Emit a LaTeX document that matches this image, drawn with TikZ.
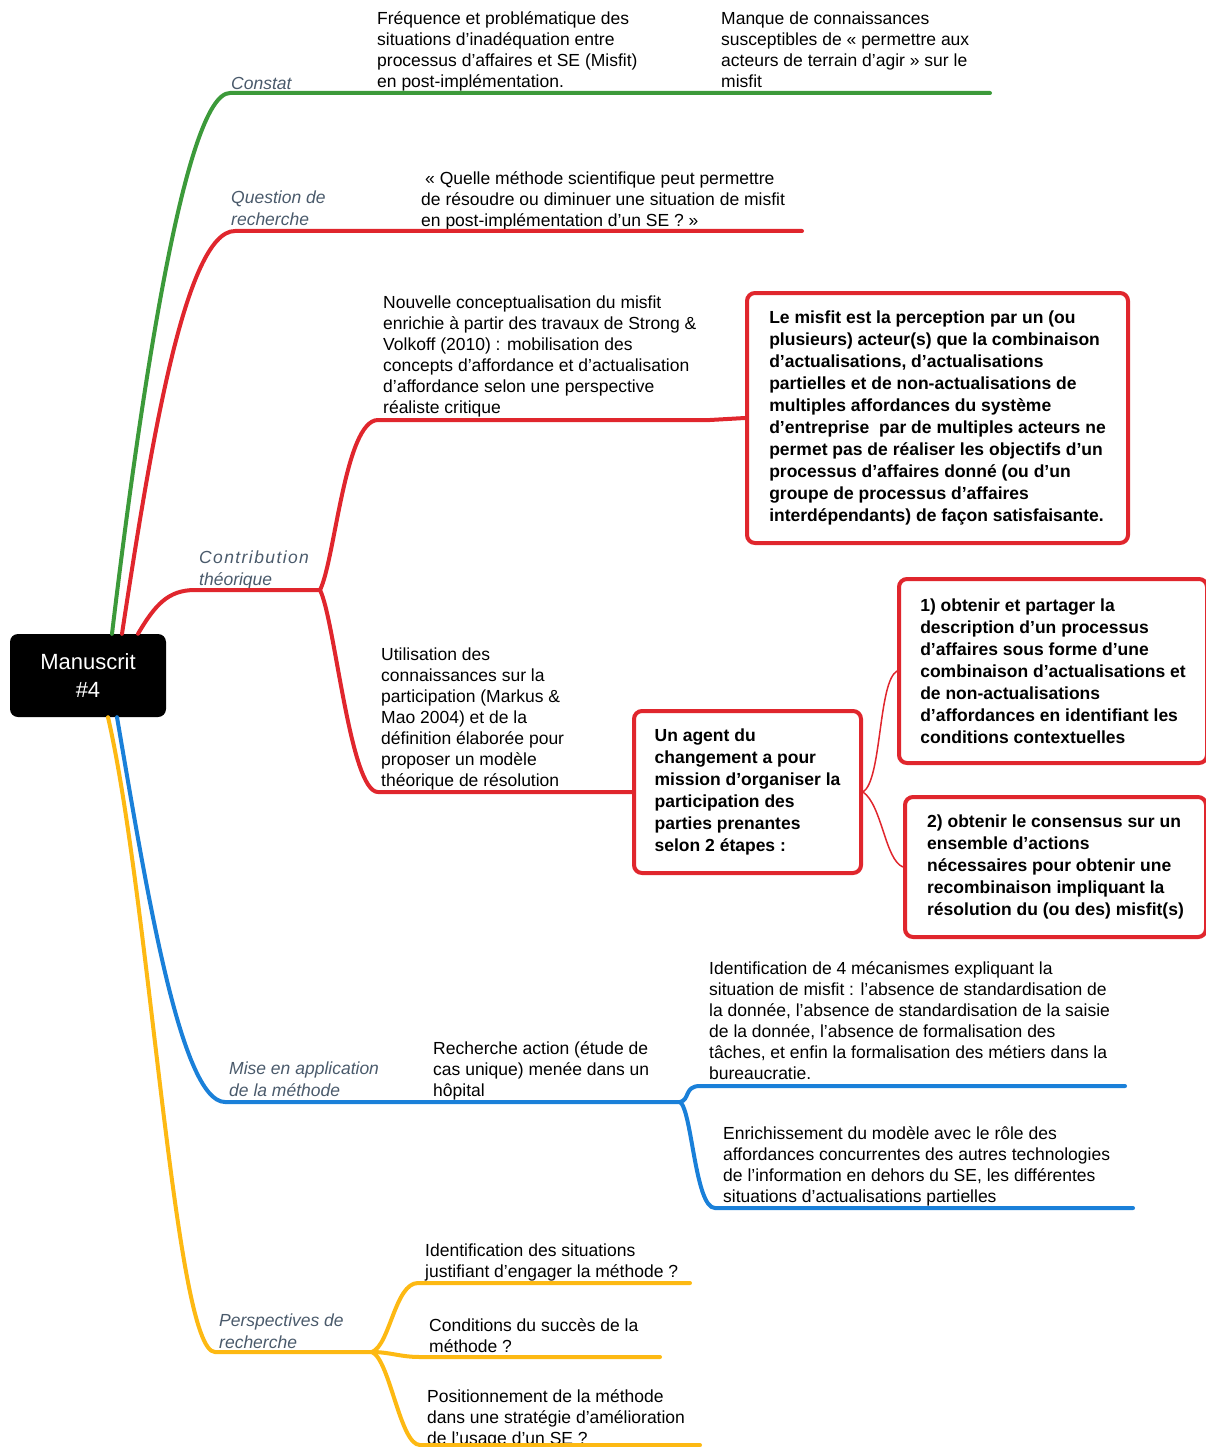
\documentclass[tikz,border=0pt]{standalone}
\usepackage{fontspec}
\setmainfont{Liberation Sans}
\definecolor{cgreen}{HTML}{3C9A3A}
\definecolor{cred}{HTML}{E0262D}
\definecolor{cblue}{HTML}{1A80D9}
\definecolor{cyellow}{HTML}{FDB913}
\definecolor{labgrey}{HTML}{4A5A6B}
\tikzset{
  br/.style={line width=4pt, line cap=round},
  thin/.style={line width=1.5pt, cred},
  txt/.style={anchor=north west, align=left, inner sep=0pt, font=\fontsize{17.5}{21}\selectfont},
  lab/.style={anchor=north west, align=left, inner sep=0pt, text=labgrey, font=\fontsize{17.5}{21.5}\selectfont\itshape},
  mbox/.style={draw=cred, line width=4pt, rounded corners=8pt, fill=white, align=left, inner sep=0pt, font=\fontsize{17.5}{22}\selectfont\bfseries},
  rootbox/.style={fill=black, rounded corners=8pt, text=white, align=center, inner sep=0pt, minimum width=156pt, minimum height=83pt, font=\fontsize{22}{28}\selectfont}
}
\begin{document}
\begin{tikzpicture}[x=1pt,y=-1pt]
\useasboundingbox (0,0) rectangle (1206,1447);
\clip (0,0) rectangle (1206,1447);

% root
\node[rootbox] (root) at (88,675.5) {Manuscrit\\\#4};

% labels
\node[lab] (lconst) at (231,74.3) {\strut Constat};
\node[lab] (lqr) at (231,188.3) {\strut Question de\\recherche};
\node[lab] (lct) at (199,548.3) {\addfontfeature{LetterSpace=8}\strut Contribution\\th\'eorique};
\node[lab] (lma) at (229,1059.3) {\strut Mise en application\\de la méthode};
\node[lab] (lpr) at (219,1311.3) {\strut Perspectives de\\recherche};

% texts
\node[txt] (c1) at (377,9.3) {\strut Fréquence et problématique des\\situations d’inadéquation entre\\processus d’affaires et SE (Misfit)\\en post-implémentation.};
\node[txt] (c2) at (721,9.3) {\strut Manque de connaissances\\susceptibles de « permettre aux\\acteurs de terrain d’agir » sur le\\misfit};
\node[txt] (qr) at (421,169.3) {\strut\hspace*{4pt}« Quelle méthode scientifique peut permettre\\de résoudre ou diminuer une situation de misfit\\en post-implémentation d’un SE ? »};
\node[txt] (nc) at (383,293.3) {\strut Nouvelle conceptualisation du misfit\\enrichie à partir des travaux de Strong \&\\Volkoff (2010) : mobilisation des\\concepts d’affordance et d’actualisation\\d’affordance selon une perspective\\réaliste critique};
\node[txt] (ut) at (381,645.3) {\strut Utilisation des\\connaissances sur la\\participation (Markus \&\\Mao 2004) et de la\\définition élaborée pour\\proposer un modèle\\théorique de résolution};
\node[txt] (ra) at (433,1039.3) {\strut Recherche action (étude de\\cas unique) menée dans un\\hôpital};
\node[txt] (id4) at (709,959.3) {\strut Identification de 4 mécanismes expliquant la\\situation de misfit : l’absence de standardisation de\\la donnée, l’absence de standardisation de la saisie\\de la donnée, l’absence de formalisation des\\tâches, et enfin la formalisation des métiers dans la\\bureaucratie.};
\node[txt] (en) at (723,1124.3) {\strut Enrichissement du modèle avec le rôle des\\affordances concurrentes des autres technologies\\de l’information en dehors du SE, les différentes\\situations d’actualisations partielles};
\node[txt] (is) at (425,1241.3) {\strut Identification des situations\\justifiant d’engager la méthode ?};
\node[txt] (co) at (429,1316.3) {\strut Conditions du succès de la\\méthode ?};
\node[txt] (po) at (427,1387.3) {\strut Positionnement de la méthode\\dans une stratégie d’amélioration\\de l’usage d’un SE ?};

% boxes
\node[mbox, minimum width=381pt, minimum height=250pt] (def) at (937.5,418) {Le misfit est la perception par un (ou\\plusieurs) acteur(s) que la combinaison\\d’actualisations, d’actualisations\\partielles et de non-actualisations de\\multiples affordances du système\\d’entreprise~ par de multiples acteurs ne\\permet pas de réaliser les objectifs d’un\\processus d’affaires donné (ou d’un\\groupe de processus d’affaires\\interdépendants) de façon satisfaisante.};
\node[mbox, minimum width=227pt, minimum height=162pt] (agent) at (747.5,792) {Un agent du\\changement a pour\\mission d’organiser la\\participation des\\parties prenantes\\selon 2 étapes :};
\node[mbox, minimum width=308pt, minimum height=184pt] (s1) at (1053,671) {1) obtenir et partager la\\description d’un processus\\d’affaires sous forme d’une\\combinaison d’actualisations et\\de non-actualisations\\d’affordances en identifiant les\\conditions contextuelles};
\node[mbox, minimum width=301pt, minimum height=140pt] (s2) at (1055.5,867) {2) obtenir le consensus sur un\\ensemble d’actions\\nécessaires pour obtenir une\\recombinaison impliquant la\\résolution du (ou des) misfit(s)};

% coordinates
\coordinate (gEnd) at (990,93);
\coordinate (qEnd) at (802,231);
\coordinate (ctF) at (320,590);
\coordinate (maF) at (680,1102);
\coordinate (maE1) at (1125,1086);
\coordinate (maE2) at (1133,1208);
\coordinate (prF) at (372,1352);
\coordinate (prE1) at (690,1283);
\coordinate (prE2) at (660,1357);
\coordinate (prE3) at (700,1445);

% branches
\draw[br, cgreen] ([xshift=24pt]root.north) .. controls (140,400) and (185,93) .. (230,93) -- (gEnd);
\draw[br, cred] ([xshift=34pt]root.north) .. controls (150,450) and (185,231) .. (235,231) -- (qEnd);
\draw[br, cred] ([xshift=50pt]root.north) .. controls (155,605) and (168,590) .. (195,590) -- (ctF);
\draw[br, cred] (ctF) .. controls (335,560) and (345,420) .. (378,420) -- (710,420) -- (def.west);
\draw[br, cred] (ctF) .. controls (335,620) and (350,792) .. (378,792) -- (agent.west);
\draw[thin] (agent.east) .. controls (882,780) and (878,682) .. (s1.west);
\draw[thin] (agent.east) .. controls (882,805) and (885,860) .. (s2.west);

\draw[br, cblue] ([xshift=29pt]root.south) .. controls (145,880) and (180,1102) .. (225,1102) -- (maF);
\draw[br, cblue] (maF) .. controls (690,1100) and (684,1086) .. (700,1086) -- (maE1);
\draw[br, cblue] (maF) .. controls (692,1110) and (695,1208) .. (715,1208) -- (maE2);

\draw[br, cyellow] ([xshift=20pt]root.south) .. controls (150,900) and (175,1352) .. (215,1352) -- (prF);
\draw[br, cyellow] (prF) .. controls (390,1345) and (395,1283) .. (418,1283) -- (prE1);
\draw[br, cyellow] (prF) .. controls (390,1352) and (400,1357) .. (420,1357) -- (prE2);
\draw[br, cyellow] (prF) .. controls (390,1360) and (400,1445) .. (420,1445) -- (prE3);
\end{tikzpicture}
\end{document}
